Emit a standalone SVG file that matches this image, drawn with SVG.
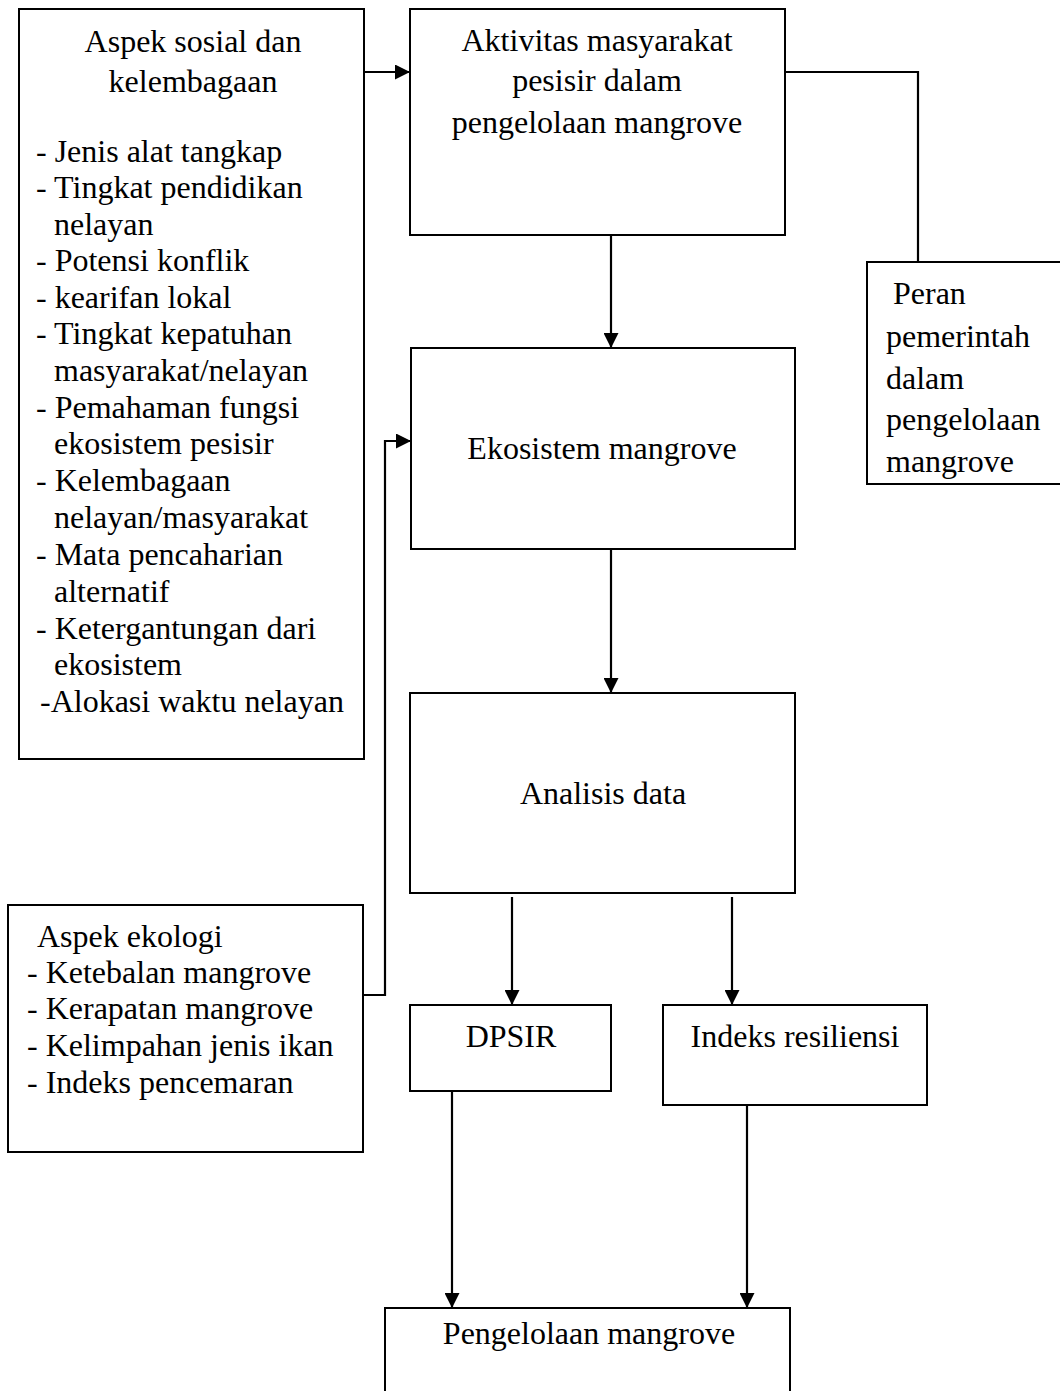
<svg xmlns="http://www.w3.org/2000/svg" width="1060" height="1391" viewBox="0 0 1060 1391">
<style>
rect{fill:#fff;stroke:#000;stroke-width:2}
text{font-family:"Liberation Serif","Times New Roman",serif;font-size:32px;fill:#000}
.c{text-anchor:middle}
.ln{fill:none;stroke:#000;stroke-width:2.2}
</style>
<defs>
<marker id="ah" markerWidth="15" markerHeight="15" refX="15" refY="7.5" orient="auto" markerUnits="userSpaceOnUse">
<path d="M0,0 L15,7.5 L0,15 Z" fill="#000"/>
</marker>
</defs>
<rect x="0" y="0" width="1060" height="1391" style="stroke:none"/>
<g id="connectors">
<path class="ln" d="M362,72 H410" marker-end="url(#ah)"/>
<path class="ln" d="M785,72 H918 V262"/>
<path class="ln" d="M611,235 V348" marker-end="url(#ah)"/>
<path class="ln" d="M364,995 H385 V441 H411" marker-end="url(#ah)"/>
<path class="ln" d="M611,549 V693" marker-end="url(#ah)"/>
<path class="ln" d="M512,897 V1005" marker-end="url(#ah)"/>
<path class="ln" d="M732,897 V1005" marker-end="url(#ah)"/>
<path class="ln" d="M452,1091 V1308" marker-end="url(#ah)"/>
<path class="ln" d="M747,1105 V1308" marker-end="url(#ah)"/>
</g>
<g id="sosial">
<rect x="19" y="9" width="345" height="750"/>
<text class="c" x="193" y="52">Aspek sosial dan</text>
<text class="c" x="193" y="92">kelembagaan</text>
<text x="36" y="162">- Jenis alat tangkap</text>
<text x="36" y="198">- Tingkat pendidikan</text>
<text x="54" y="235">nelayan</text>
<text x="36" y="271">- Potensi konflik</text>
<text x="36" y="308">- kearifan lokal</text>
<text x="36" y="344">- Tingkat kepatuhan</text>
<text x="54" y="381">masyarakat/nelayan</text>
<text x="36" y="418">- Pemahaman fungsi</text>
<text x="54" y="454">ekosistem pesisir</text>
<text x="36" y="491">- Kelembagaan</text>
<text x="54" y="528">nelayan/masyarakat</text>
<text x="36" y="565">- Mata pencaharian</text>
<text x="54" y="602">alternatif</text>
<text x="36" y="639">- Ketergantungan dari</text>
<text x="54" y="675">ekosistem</text>
<text x="40" y="712">-Alokasi waktu nelayan</text>
</g>
<g id="aktivitas">
<rect x="410" y="9" width="375" height="226"/>
<text class="c" x="597" y="51">Aktivitas masyarakat</text>
<text class="c" x="597" y="91">pesisir dalam</text>
<text class="c" x="597" y="133">pengelolaan mangrove</text>
</g>
<g id="peran">
<rect x="867" y="262" width="200" height="222"/>
<text x="893" y="304">Peran</text>
<text x="886" y="347">pemerintah</text>
<text x="886" y="389">dalam</text>
<text x="886" y="430">pengelolaan</text>
<text x="886" y="472">mangrove</text>
</g>
<g id="ekosistem">
<rect x="411" y="348" width="384" height="201"/>
<text class="c" x="602" y="459">Ekosistem mangrove</text>
</g>
<g id="analisis">
<rect x="410" y="693" width="385" height="200"/>
<text class="c" x="603" y="804">Analisis data</text>
</g>
<g id="ekologi">
<rect x="8" y="905" width="355" height="247"/>
<text x="37" y="947">Aspek ekologi</text>
<text x="27" y="983">- Ketebalan mangrove</text>
<text x="27" y="1019">- Kerapatan mangrove</text>
<text x="27" y="1056">- Kelimpahan jenis ikan</text>
<text x="27" y="1093">- Indeks pencemaran</text>
</g>
<g id="dpsir">
<rect x="410" y="1005" width="201" height="86"/>
<text class="c" x="511" y="1047">DPSIR</text>
</g>
<g id="indeks">
<rect x="663" y="1005" width="264" height="100"/>
<text class="c" x="795" y="1047">Indeks resiliensi</text>
</g>
<g id="pengelolaan">
<rect x="385" y="1308" width="405" height="100"/>
<text class="c" x="589" y="1344">Pengelolaan mangrove</text>
</g>
</svg>
